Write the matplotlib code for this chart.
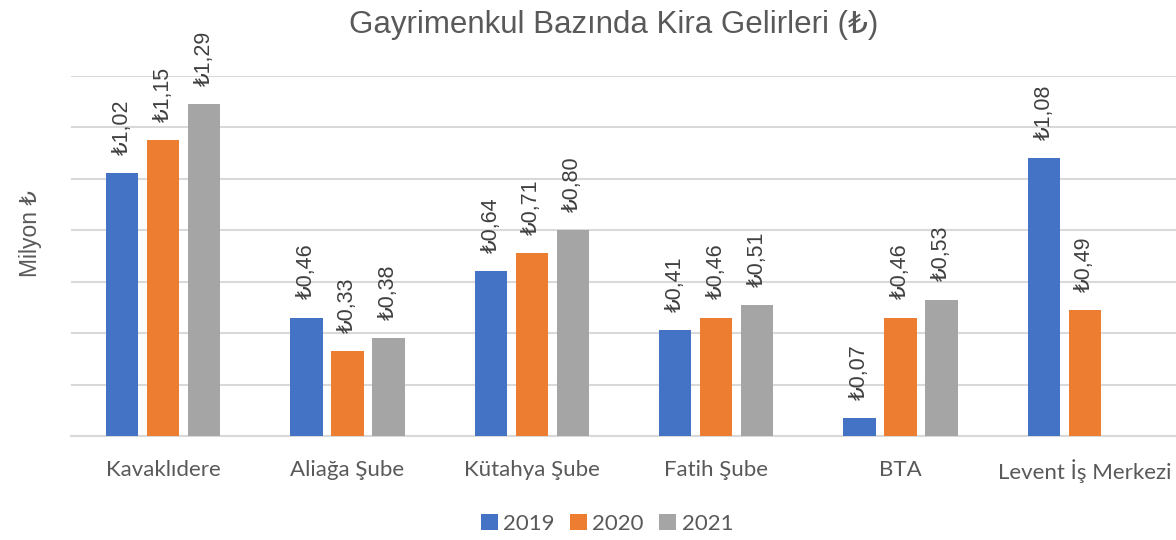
import matplotlib
matplotlib.use('Agg')
import matplotlib.pyplot as plt
import numpy as np

# Rent income per property (million TL)
properties = ['Kavaklıdere', 'Aliağa Şube', 'Kütahya Şube', 'Fatih Şube', 'BTA', 'Levent İş Merkezi']
years = ['2019', '2020', '2021']
v2019 = [1.02, 0.46, 0.64, 0.41, 0.07, 1.08]
v2020 = [1.15, 0.33, 0.71, 0.46, 0.46, 0.49]
v2021 = [1.29, 0.38, 0.80, 0.51, 0.53, None]
colors = ['#4472C4', '#ED7D31', '#A5A5A5']

arial = ['Liberation Sans', 'DejaVu Sans']
calibri = ['Lato', 'DejaVu Sans']

fig = plt.figure(figsize=(11.76, 5.4), dpi=100)
ax = fig.add_axes([71 / 1176, 104 / 540, 1106 / 1176, 360.5 / 540])

x = np.arange(len(properties))
width = 0.176
step = 0.222

for i, (vals, year, c) in enumerate(zip([v2019, v2020, v2021], years, colors)):
    xs = [xi + (i - 1) * step for xi, v in zip(x, vals) if v is not None]
    ys = [v for v in vals if v is not None]
    ax.bar(xs, ys, width=width, color=c, label=year, zorder=3)
    for xv, yv in zip(xs, ys):
        ax.annotate('₺' + f'{yv:.2f}'.replace('.', ','), (xv, yv),
                    xytext=(0, 13), textcoords='offset points',
                    rotation=90, ha='center', va='bottom',
                    fontsize=15.5, color='#404040', family=arial)

ax.set_xlim(-0.5, len(properties) - 0.5)
ax.set_ylim(0, 1.4)
ax.set_yticks(np.arange(0, 1.41, 0.2))
ax.set_yticklabels([])
ax.tick_params(axis='y', length=0)
ax.tick_params(axis='x', length=0, pad=17)
ax.set_xticks(x)
ax.set_xticklabels(properties, fontsize=16, color='#595959', family=calibri)
ax.grid(axis='y', color='#D9D9D9', linewidth=1.5, zorder=0)
for s in ['top', 'right', 'left']:
    ax.spines[s].set_visible(False)
ax.spines['bottom'].set_color('#D9D9D9')
ax.spines['bottom'].set_linewidth(1.5)

fig.text(614 / 1176, 1 - 25 / 540, 'Gayrimenkul Bazında Kira Gelirleri (₺)',
         ha='center', va='center', fontsize=22.5, color='#595959', family=arial)
fig.text(30 / 1176, 1 - 234 / 540, 'Milyon ₺', rotation=90, ha='center', va='center',
         fontsize=16.5, color='#595959', family=arial)

fig.legend(loc='center', bbox_to_anchor=(607 / 1176, 1 - 524 / 540), ncol=3, frameon=False,
           prop={'family': calibri, 'size': 16}, labelcolor='#595959',
           handlelength=0.75, handleheight=0.75, handletextpad=0.25, columnspacing=0.7)

fig.savefig('out.png', dpi=100)
